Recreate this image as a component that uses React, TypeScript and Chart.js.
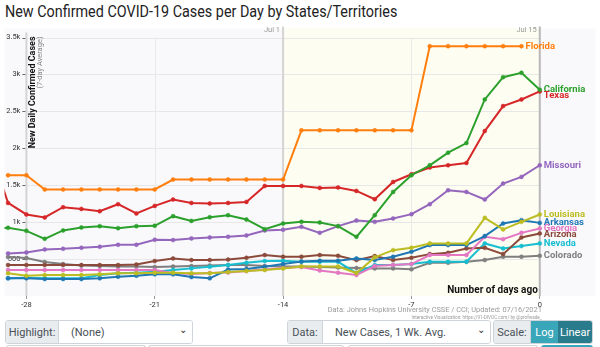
import React, { useEffect, useRef } from 'react';
import { Chart, registerables } from 'chart.js';

Chart.register(...registerables);

// ---- data ----
const days = [-30, -29, -28, -27, -26, -25, -24, -23, -22, -21, -20, -19, -18, -17, -16, -15, -14, -13, -12, -11, -10, -9, -8, -7, -6, -5, -4, -3, -2, -1, 0];

const florida = [null, 1635, 1635, 1442, 1442, 1442, 1442, 1442, 1442, 1442, 1577, 1577, 1577, 1577, 1577, 1577, 1577, 2243, 2243, 2243, 2243, 2243, 2243, 2243, 3382, 3382, 3382, 3382, 3382, 3382, null];
const california = [920, 923, 882, 774, 888, 928, 946, 919, 946, 950, 1081, 1017, 1067, 1094, 1036, 905, 982, 1004, 996, 946, 801, 1094, 1409, 1635, 1770, 1941, 2071, 2661, 2963, 3022, 2792];
const texas = [2000, 1260, 1104, 1063, 1202, 1179, 1148, 1243, 1117, 1220, 1306, 1260, 1252, 1260, 1274, 1490, 1490, 1490, 1463, 1469, 1423, 1310, 1544, 1648, 1739, 1770, 1801, 2233, 2571, 2661, 2770];
const missouri = [null, 577, 590, 631, 639, 653, 666, 693, 693, 761, 757, 780, 793, 801, 820, 888, 896, 936, 855, 946, 1023, 1004, 1050, 1108, 1243, 1432, 1409, 1306, 1523, 1612, 1770];
const louisiana = [null, 307, 274, 284, 284, 284, 293, 307, 307, 315, 315, 307, 307, 324, 338, 351, 372, 399, 399, 399, 311, 523, 621, 653, 712, 712, 712, 1058, 901, 1004, 1104];
const arkansas = [null, 239, 239, 230, 230, 230, 239, 261, 274, 293, 293, 257, 239, 358, 365, 396, 432, 466, 477, 477, 509, 486, 531, 598, 689, 689, 689, 811, 982, 1027, 990];
const georgia = [null, 351, 351, 351, 351, 351, 351, 351, 351, 351, 311, 297, 311, 317, 338, 358, 378, 392, 345, 315, 284, 405, 419, 432, 554, 554, 554, 801, 770, 855, 915];
const arizona = [null, 419, 419, 419, 419, 419, 419, 419, 426, 473, 509, 486, 486, 493, 517, 554, 531, 531, 554, 544, 486, 540, 486, 517, 567, 585, 644, 652, 567, 793, 847];
const nevada = [null, 239, 247, 239, 239, 239, 284, 307, 315, 328, 351, 374, 396, 419, 450, 473, 477, 463, 463, 463, 311, 419, 419, 432, 463, 463, 463, 712, 644, 676, 712];
const colorado = [null, 527, 513, 459, 432, 412, 405, 399, 399, 392, 399, 405, 412, 419, 419, 405, 399, 399, 392, 385, 378, 374, 374, 361, 450, 450, 463, 486, 531, 531, 544];

const stateNames = ['Florida', 'California', 'Texas', 'Missouri', 'Louisiana', 'Arkansas', 'Georgia', 'Arizona', 'Nevada', 'Colorado'];
const stateValues = [florida, california, texas, missouri, louisiana, arkansas, georgia, arizona, nevada, colorado];
const stateColors = ['#ff7f0e', '#2ca02c', '#d62728', '#9467bd', '#bcbd22', '#1f77b4', '#e377c2', '#8c4a3b', '#17becf', '#7f7f7f'];

const xTicks = [-28, -21, -14, -7, 0];
const yTicks = [500, 1000, 1500, 2000, 2500, 3000, 3500];
const majorLines = [-28, -14, 0];
const minorLines = [-21, -7];
const markerDays = [-14, 0];
const markerLabels = ['Jul 1', 'Jul 15'];

const FONT = 'Roboto, sans-serif';

function fmtK(v: number) {
  return v >= 1000 ? `${v / 1000}k` : String(v);
}

const decor = {
  id: 'decor',
  beforeDatasetsDraw(chart: any) {
    const { ctx, chartArea: a, scales } = chart;
    const x = scales.x, y = scales.y;
    const xStart = x.getPixelForValue(-14);
    const xEnd = x.getPixelForValue(0);
    const x28 = x.getPixelForValue(-28);
    ctx.save();
    // backgrounds
    ctx.fillStyle = '#f9f9fc';
    ctx.fillRect(a.left, a.top - 9, a.right - a.left, a.bottom - a.top + 9);
    ctx.fillStyle = '#fdfdf2';
    ctx.fillRect(xStart, a.top - 9, xEnd - xStart, a.bottom - a.top + 9);
    // horizontal grid
    ctx.strokeStyle = '#e7e7e7';
    ctx.lineWidth = 1;
    yTicks.forEach((v) => {
      const py = Math.round(y.getPixelForValue(v)) + 0.5;
      ctx.beginPath();
      ctx.moveTo(x28, py);
      ctx.lineTo(xEnd, py);
      ctx.stroke();
    });
    // minor vertical
    ctx.strokeStyle = '#e9e9e9';
    minorLines.forEach((d) => {
      const px = Math.round(x.getPixelForValue(d)) + 0.5;
      ctx.beginPath();
      ctx.moveTo(px, a.top);
      ctx.lineTo(px, a.bottom);
      ctx.stroke();
    });
    // major vertical
    majorLines.forEach((d) => {
      const px = x.getPixelForValue(d);
      ctx.strokeStyle = d === 0 ? '#b8b8b8' : '#d4d4d4';
      ctx.lineWidth = 2;
      ctx.beginPath();
      ctx.moveTo(px, d === -28 ? a.top - 5 : a.top - 11);
      ctx.lineTo(px, a.bottom);
      ctx.stroke();
    });
    // marker labels
    ctx.fillStyle = '#9a9a9a';
    ctx.font = `7.5px ${FONT}`;
    ctx.textAlign = 'right';
    ctx.textBaseline = 'middle';
    markerDays.forEach((d, i) => {
      ctx.fillText(markerLabels[i], x.getPixelForValue(d) - 3, a.top - 7);
    });
    // y tick labels and marks
    ctx.font = `7.5px ${FONT}`;
    ctx.fillStyle = '#333';
    ctx.strokeStyle = '#666';
    ctx.lineWidth = 1;
    yTicks.forEach((v) => {
      const py = y.getPixelForValue(v);
      ctx.fillText(fmtK(v), x28 - 6, py);
      ctx.beginPath();
      ctx.moveTo(x28 - 4, Math.round(py) + 0.5);
      ctx.lineTo(x28 - 1, Math.round(py) + 0.5);
      ctx.stroke();
    });
    // y axis title
    ctx.save();
    ctx.translate(x28 + 6, a.top - 1);
    ctx.rotate(-Math.PI / 2);
    ctx.textAlign = 'right';
    ctx.font = `bold 9px ${FONT}`;
    ctx.fillStyle = '#111';
    ctx.fillText('New Daily Confirmed Cases', 0, 0);
    ctx.font = `7.5px ${FONT}`;
    ctx.fillStyle = '#888';
    ctx.fillText('(7-day Average)', 0, 8);
    ctx.restore();
    // x axis title
    ctx.font = `bold 10px ${FONT}`;
    ctx.fillStyle = '#111';
    ctx.textAlign = 'right';
    ctx.fillText('Number of days ago', xEnd - 2, a.bottom - 6);
    ctx.restore();
  },
  afterDatasetsDraw(chart: any) {
    const { ctx, chartArea: a, scales } = chart;
    const x = scales.x, y = scales.y;
    ctx.save();
    // end labels
    const items = stateNames.map((name, i) => {
      const vals = stateValues[i];
      let k = vals.length - 1;
      while (k >= 0 && vals[k] === null) k--;
      return { name, color: stateColors[i], px: x.getPixelForValue(days[k]) + 4, py: y.getPixelForValue(vals[k] as number) };
    });
    items.sort((p, q) => p.py - q.py);
    for (let i = 1; i < items.length; i++) {
      if (items[i].py - items[i - 1].py < 5.8) items[i].py = items[i - 1].py + 5.8;
    }
    ctx.font = `bold 9.5px ${FONT}`;
    ctx.textAlign = 'left';
    ctx.textBaseline = 'middle';
    items.forEach((it) => {
      ctx.fillStyle = it.color;
      ctx.fillText(it.name, it.px, it.py);
    });
    // source
    const xEnd = x.getPixelForValue(0);
    ctx.textAlign = 'right';
    ctx.fillStyle = '#9a9a9a';
    ctx.font = `7.4px ${FONT}`;
    ctx.fillText('Data: Johns Hopkins University CSSE / CCI; Updated: 07/16/2021', xEnd + 2, a.bottom + 14.5);
    ctx.font = `4.6px ${FONT}`;
    ctx.fillText('Interactive Visualization: https://91-DIVOC.com/ by @profwade_', xEnd + 2, a.bottom + 21.5);
    ctx.restore();
  },
};

const ctrlBox: React.CSSProperties = {
  position: 'absolute',
  top: 320,
  height: 24,
  display: 'flex',
  border: '1px solid #ced4da',
  borderRadius: 3,
  boxSizing: 'border-box',
  overflow: 'hidden',
  font: `11px ${FONT}`,
  color: '#495057',
};
const lbl: React.CSSProperties = {
  background: '#e9ecef',
  borderRight: '1px solid #ced4da',
  display: 'flex',
  alignItems: 'center',
  justifyContent: 'center',
};
const sel: React.CSSProperties = {
  flex: 1,
  background: '#fff',
  display: 'flex',
  alignItems: 'center',
  paddingLeft: 12,
  position: 'relative',
};
const chev: React.CSSProperties = {
  position: 'absolute',
  right: 5,
  top: 3,
  fontSize: 10,
  color: '#333',
};

export default function App() {
  const ref = useRef<HTMLCanvasElement>(null);
  useEffect(() => {
    Chart.defaults.font.family = FONT;
    const chart = new Chart(ref.current as HTMLCanvasElement, {
      type: 'line',
      data: {
        datasets: stateNames.map((name, i) => ({
          label: name,
          data: days.map((d, k) => ({ x: d, y: stateValues[i][k] })),
          borderColor: stateColors[i],
          backgroundColor: stateColors[i],
          pointBackgroundColor: stateColors[i],
          pointBorderColor: stateColors[i],
          borderWidth: 2,
          pointRadius: 2,
          pointBorderWidth: 0.5,
          tension: 0,
          spanGaps: false,
        })),
      },
      options: {
        responsive: false,
        animation: false,
        layout: { padding: { top: 14.5, left: 3, right: 3, bottom: 10 } },
        plugins: { legend: { display: false }, tooltip: { enabled: false } },
        scales: {
          x: {
            type: 'linear',
            min: -29.194,
            max: 3.039,
            afterBuildTicks: (s: any) => {
              s.ticks = xTicks.map((v) => ({ value: v }));
            },
            afterFit: (s: any) => {
              s.height = 14;
            },
            grid: { drawOnChartArea: false, drawTicks: true, tickLength: 3, color: '#999' },
            border: { display: false },
            ticks: {
              padding: 2,
              autoSkip: false,
              maxRotation: 0,
              color: '#333',
              font: { size: 7.5 },
              callback: (v: any) => String(v),
            },
          },
          y: { display: false, min: 0, max: 3500 },
        },
      },
      plugins: [decor],
    });
    return () => chart.destroy();
  }, []);

  return (
    <div style={{ position: 'relative', width: 600, height: 347, overflow: 'hidden', background: '#fff', fontFamily: FONT }}>
      <style>{'body{margin:0}'}</style>
      <div style={{ position: 'absolute', left: 5, top: 0, fontSize: 17, lineHeight: '22px', color: '#222', whiteSpace: 'nowrap', transform: 'scaleX(0.845)', transformOrigin: '0 0' }}>
        New Confirmed COVID-19 Cases per Day by States/Territories
      </div>
      <canvas ref={ref} width={600} height={297} style={{ position: 'absolute', left: 0, top: 23, width: 600, height: 297 }} />
      <div style={{ ...ctrlBox, left: 5, width: 188 }}>
        <div style={{ ...lbl, width: 52 }}>Highlight:</div>
        <div style={sel}>(None)<span style={chev}>⌄</span></div>
      </div>
      <div style={{ ...ctrlBox, left: 287, width: 204 }}>
        <div style={{ ...lbl, width: 34 }}>Data:</div>
        <div style={sel}>New Cases, 1 Wk. Avg.<span style={chev}>⌄</span></div>
      </div>
      <div style={{ ...ctrlBox, left: 493, width: 100 }}>
        <div style={{ ...lbl, width: 36 }}>Scale:</div>
        <div style={{ width: 27, background: '#3aa6b9', color: '#fff', display: 'flex', alignItems: 'center', justifyContent: 'center' }}>Log</div>
        <div style={{ flex: 1, background: '#2a7c8c', color: '#fff', display: 'flex', alignItems: 'center', justifyContent: 'center' }}>Linear</div>
      </div>
      <div style={{ position: 'absolute', top: 345, left: 6, width: 138, height: 4, borderTop: '1px solid #ced4da', borderLeft: '1px solid #ced4da', borderRight: '1px solid #ced4da', borderRadius: '3px 3px 0 0' }} />
      <div style={{ position: 'absolute', top: 345, left: 148, width: 194, height: 4, borderTop: '1px solid #ced4da', borderLeft: '1px solid #ced4da', borderRight: '1px solid #ced4da', borderRadius: '3px 3px 0 0' }} />
      <div style={{ position: 'absolute', top: 345, left: 348, width: 188, height: 4, borderTop: '1px solid #ced4da', borderLeft: '1px solid #ced4da', borderRight: '1px solid #ced4da', borderRadius: '3px 3px 0 0' }} />
      <div style={{ position: 'absolute', top: 345, left: 541, width: 52, height: 4, background: '#3aa6b9', borderRadius: '3px 3px 0 0' }} />
    </div>
  );
}
